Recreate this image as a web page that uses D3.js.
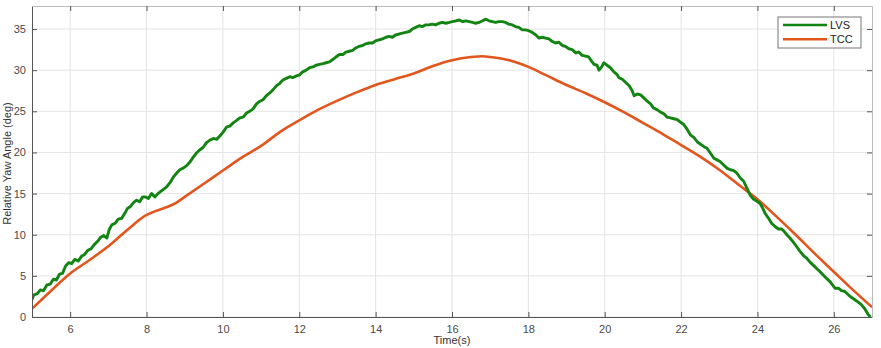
<!DOCTYPE html>
<html>
<head>
<meta charset="utf-8">
<script src="https://cdn.jsdelivr.net/npm/d3@7"></script>
<style>
  body { margin: 0; background: #fff; }
  svg { font-family: "Liberation Sans", Arial, sans-serif; }
</style>
</head>
<body>
<svg id="chart" width="881" height="348"></svg>
<script>
// LVS trace (time in s, relative yaw in deg)
const lvsTime = [5.00,5.05,5.13,5.22,5.30,5.39,5.48,5.56,5.64,5.72,5.80,5.88,5.96,6.04,6.12,6.21,6.30,6.38,6.46,6.55,6.63,6.72,6.80,6.88,6.96,7.02,7.09,7.18,7.26,7.35,7.43,7.50,7.57,7.66,7.74,7.82,7.90,7.96,8.05,8.13,8.22,8.30,8.38,8.44,8.52,8.61,8.70,8.79,8.87,8.96,9.05,9.13,9.22,9.30,9.39,9.48,9.57,9.66,9.75,9.84,9.92,10.01,10.10,10.18,10.27,10.36,10.44,10.53,10.62,10.70,10.79,10.88,10.96,11.05,11.14,11.22,11.31,11.40,11.49,11.57,11.66,11.75,11.84,11.92,12.00,12.09,12.18,12.27,12.36,12.44,12.53,12.62,12.70,12.79,12.88,12.96,13.05,13.14,13.22,13.31,13.40,13.48,13.57,13.66,13.74,13.83,13.92,14.01,14.10,14.18,14.27,14.36,14.44,14.53,14.62,14.70,14.79,14.88,14.96,15.05,15.14,15.22,15.31,15.40,15.48,15.57,15.66,15.75,15.84,15.93,16.01,16.10,16.19,16.28,16.36,16.45,16.54,16.62,16.71,16.80,16.88,16.97,17.06,17.14,17.23,17.32,17.40,17.49,17.58,17.66,17.75,17.84,17.92,18.01,18.10,18.19,18.28,18.36,18.45,18.54,18.62,18.71,18.80,18.89,18.97,19.06,19.15,19.24,19.32,19.41,19.50,19.58,19.67,19.72,19.80,19.85,19.92,19.98,20.06,20.15,20.24,20.32,20.37,20.46,20.55,20.64,20.72,20.77,20.85,20.94,21.03,21.12,21.20,21.28,21.37,21.46,21.55,21.63,21.72,21.81,21.90,21.98,22.07,22.16,22.25,22.34,22.42,22.51,22.60,22.68,22.77,22.86,22.94,23.02,23.11,23.20,23.29,23.38,23.46,23.55,23.64,23.72,23.81,23.90,23.98,24.07,24.14,24.20,24.29,24.37,24.46,24.55,24.63,24.68,24.77,24.85,24.94,25.02,25.11,25.20,25.28,25.37,25.46,25.55,25.64,25.72,25.81,25.90,25.98,26.03,26.12,26.20,26.29,26.38,26.46,26.55,26.64,26.72,26.81,26.90,26.96];
const lvsYaw = [2.1,2.7,2.8,3.3,3.2,3.9,4.0,4.6,4.5,5.2,5.3,6.2,6.6,6.5,7.0,6.8,7.4,7.6,8.1,8.3,8.8,9.2,9.7,9.9,9.6,10.6,11.2,11.4,11.9,12.0,12.6,13.2,13.4,13.9,14.2,14.0,14.6,14.6,14.4,15.0,14.6,15.0,15.3,15.5,15.8,16.3,17.0,17.5,17.9,18.1,18.4,18.8,19.4,19.9,20.3,20.6,21.2,21.5,21.7,21.6,22.0,22.5,23.1,23.2,23.6,23.9,24.2,24.3,24.8,25.0,25.3,25.9,26.2,26.4,26.9,27.2,27.6,28.1,28.4,28.8,29.0,29.2,29.1,29.3,29.4,29.8,30.0,30.3,30.4,30.6,30.7,30.8,30.9,31.0,31.3,31.6,31.9,31.9,32.2,32.3,32.4,32.7,32.9,33.0,33.2,33.3,33.3,33.6,33.7,33.8,34.0,34.1,34.0,34.3,34.4,34.5,34.6,34.7,35.0,35.2,35.4,35.3,35.5,35.5,35.6,35.5,35.7,35.8,35.7,35.8,35.9,36.0,36.1,35.9,36.0,35.9,35.8,35.7,35.8,36.0,36.2,36.0,35.9,35.8,35.9,35.9,35.8,35.6,35.5,35.3,35.2,34.9,34.9,34.8,34.6,34.3,33.9,34.0,33.9,33.8,33.5,33.3,33.4,33.0,32.9,32.6,32.5,32.1,32.2,31.8,31.7,31.6,31.0,30.7,30.6,30.0,30.4,30.9,30.6,30.3,29.8,29.5,29.1,28.9,28.5,28.1,27.5,26.9,27.1,27.0,26.6,26.2,25.9,25.4,25.2,24.9,24.7,24.3,24.2,24.1,24.0,23.7,23.4,22.8,22.1,21.8,21.3,21.0,20.7,20.5,19.9,19.3,19.1,18.9,18.5,18.1,17.9,17.8,17.5,16.9,16.5,15.7,14.8,14.3,14.1,13.8,13.2,12.6,12.0,11.4,11.0,10.7,10.7,10.5,10.0,9.6,9.1,8.6,8.0,7.5,7.2,6.7,6.3,5.9,5.5,5.1,4.7,4.3,3.8,3.5,3.5,3.2,3.1,2.7,2.4,2.1,1.8,1.5,1.0,0.3,0.0];

// TCC trace
const tccTime = [5.0,5.5,6.0,6.5,7.0,7.5,8.0,8.25,8.5,8.75,9.0,9.5,10.0,10.5,11.0,11.5,12.0,12.5,13.0,13.5,14.0,14.5,15.0,15.5,16.0,16.5,16.8,17.0,17.5,18.0,18.5,19.0,19.5,20.0,20.5,21.0,21.5,22.0,22.5,23.0,23.5,24.0,24.5,25.0,25.5,26.0,26.5,27.0];
const tccYaw = [1.0,3.2,5.3,6.9,8.6,10.6,12.4,12.9,13.3,13.8,14.6,16.2,17.8,19.4,20.8,22.5,23.9,25.2,26.3,27.3,28.2,28.9,29.6,30.5,31.2,31.6,31.7,31.6,31.2,30.4,29.3,28.2,27.2,26.1,24.9,23.6,22.3,20.9,19.5,17.9,16.1,14.3,12.2,10.0,7.7,5.5,3.3,1.2];

const xTicks = [6, 8, 10, 12, 14, 16, 18, 20, 22, 24, 26];
const yTicks = [0, 5, 10, 15, 20, 25, 30, 35];
const seriesNames = ['LVS', 'TCC'];
const seriesColors = ['#128412', '#e2561d'];

const svg = d3.select('#chart');
const plotLeft = 32, plotRight = 872, plotTop = 6, plotBottom = 317;

const x = d3.scaleLinear().domain([5, 27]).range([plotLeft, plotRight]);
const y = d3.scaleLinear().domain([0, 37.8]).range([plotBottom, plotTop]);

// grid
const grid = svg.append('g').attr('stroke', '#e4e4e4').attr('stroke-width', 1);
xTicks.forEach(t => grid.append('line')
  .attr('x1', x(t)).attr('x2', x(t)).attr('y1', plotTop).attr('y2', plotBottom));
yTicks.forEach(t => grid.append('line')
  .attr('x1', plotLeft).attr('x2', plotRight).attr('y1', y(t)).attr('y2', y(t)));

// traces
const lvs = lvsTime.map((t, i) => [t, lvsYaw[i]]);
const tcc = tccTime.map((t, i) => [t, tccYaw[i]]);
svg.append('clipPath').attr('id', 'clip')
  .append('rect').attr('x', plotLeft).attr('y', plotTop)
  .attr('width', plotRight - plotLeft).attr('height', plotBottom - plotTop);

svg.append('path').datum(tcc)
  .attr('clip-path', 'url(#clip)')
  .attr('fill', 'none').attr('stroke', seriesColors[1]).attr('stroke-width', 2.6)
  .attr('stroke-linejoin', 'round')
  .attr('d', d3.line().x(d => x(d[0])).y(d => y(d[1])).curve(d3.curveMonotoneX));
svg.append('path').datum(lvs)
  .attr('clip-path', 'url(#clip)')
  .attr('fill', 'none').attr('stroke', seriesColors[0]).attr('stroke-width', 2.9)
  .attr('stroke-linejoin', 'round')
  .attr('d', d3.line().x(d => x(d[0])).y(d => y(d[1])));

// axes, ticks pointing in, box all round
const axisColor = '#555';
const bottomAxis = svg.append('g').attr('transform', `translate(0,${plotBottom})`)
  .call(d3.axisBottom(x).tickValues(xTicks).tickSizeInner(-5).tickSizeOuter(0).tickPadding(8));
const leftAxis = svg.append('g').attr('transform', `translate(${plotLeft},0)`)
  .call(d3.axisLeft(y).tickValues(yTicks).tickSizeInner(-5).tickSizeOuter(0).tickPadding(6));
const topAxis = svg.append('g').attr('transform', `translate(0,${plotTop})`)
  .call(d3.axisTop(x).tickValues(xTicks).tickSizeInner(-5).tickSizeOuter(0).tickFormat(''));
const rightAxis = svg.append('g').attr('transform', `translate(${plotRight},0)`)
  .call(d3.axisRight(y).tickValues(yTicks).tickSizeInner(-5).tickSizeOuter(0).tickFormat(''));

[bottomAxis, leftAxis, topAxis, rightAxis].forEach(a => {
  a.selectAll('path').attr('stroke', axisColor).attr('stroke-width', 1);
  a.selectAll('line').attr('stroke', axisColor);
  a.selectAll('text').attr('fill', '#4a4a4a').style('font-size', '11px');
});
topAxis.select('path').attr('stroke', '#bbb');
rightAxis.select('path').attr('stroke', '#bbb');

// axis labels
svg.append('text')
  .attr('x', (plotLeft + plotRight) / 2).attr('y', 344)
  .attr('text-anchor', 'middle').attr('fill', '#333').style('font-size', '11px')
  .text('Time(s)');
svg.append('text')
  .attr('transform', `translate(11,${(plotTop + plotBottom) / 2 + 2}) rotate(-90)`)
  .attr('text-anchor', 'middle').attr('fill', '#333').style('font-size', '11px')
  .text('Relative Yaw Angle (deg)');

// legend
const legend = svg.append('g');
legend.append('rect')
  .attr('x', 778).attr('y', 17).attr('width', 83).attr('height', 31)
  .attr('fill', '#fff').attr('stroke', '#777').attr('stroke-width', 1);
seriesNames.forEach((name, i) => {
  const ly = 25 + i * 14.3;
  legend.append('line')
    .attr('x1', 783).attr('x2', 827).attr('y1', ly).attr('y2', ly)
    .attr('stroke', seriesColors[i]).attr('stroke-width', 2.6);
  legend.append('text')
    .attr('x', 830).attr('y', ly + 4)
    .attr('fill', '#222').style('font-size', '11px')
    .text(name);
});
</script>
</body>
</html>
